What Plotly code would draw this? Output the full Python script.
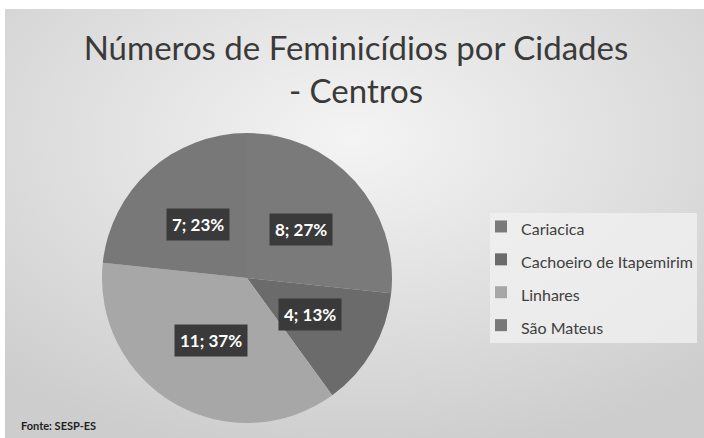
import math, base64
import plotly.graph_objects as go

# ---- data ----
cities = ["Cariacica", "Cachoeiro de Itapemirim", "Linhares", "São Mateus"]
counts = [8, 4, 11, 7]
slice_colors = ["#7a7a7a", "#6b6b6b", "#a7a7a7", "#787878"]
title_text = "Números de Feminicídios por Cidades<br>- Centros"
source_text = "Fonte: SESP-ES"

W, H = 704, 438
FONT = "Lato, 'Open Sans', sans-serif"

# pie geometry (pixels)
cx, cy, r = 247, 278, 145
dom_x = [(cx - r) / W, (cx + r) / W]
dom_y = [1 - (cy + r) / H, 1 - (cy - r) / H]

legend_labels = [f"<span style='font-size:16px'>{c}</span>" for c in cities]

fig = go.Figure()
fig.add_trace(go.Pie(
    labels=legend_labels, values=counts, sort=False, direction="clockwise", rotation=0,
    marker=dict(colors=slice_colors, line=dict(color="rgba(0,0,0,0)", width=0)),
    textinfo="none", domain=dict(x=dom_x, y=dom_y), hoverinfo="label+value+percent",
))

# data labels in dark boxes, placed at half radius along each slice's mid-angle
total = sum(counts)
cum = 0
for v in counts:
    mid = 2 * math.pi * (cum + v / 2) / total
    cum += v
    px = cx + 0.5 * r * math.sin(mid)
    py = cy - 0.5 * r * math.cos(mid)
    fig.add_annotation(
        x=px / W, y=1 - py / H, xref="paper", yref="paper",
        xanchor="center", yanchor="middle",
        text=f"<b>{v}; {round(100 * v / total)}%</b>", showarrow=False,
        font=dict(family=FONT, size=17, color="white"),
        bgcolor="#3a3a3a", borderpad=5,
    )

fig.add_annotation(
    x=19 / W, y=1 - 425 / H, xref="paper", yref="paper", xanchor="left", yanchor="middle",
    text=f"<b>{source_text}</b>", showarrow=False,
    font=dict(family=FONT, size=11, color="#222222"),
)

# radial gradient background as svg image
svg = ('<svg xmlns="http://www.w3.org/2000/svg" width="699" height="429" preserveAspectRatio="none">'
       '<defs><radialGradient id="g" cx="50%" cy="30%" r="75%">'
       '<stop offset="0%" stop-color="#f4f4f4"/><stop offset="100%" stop-color="#cdcdcd"/>'
       '</radialGradient></defs><rect width="699" height="429" fill="url(#g)"/></svg>')
src = "data:image/svg+xml;base64," + base64.b64encode(svg.encode()).decode()
fig.add_layout_image(dict(source=src, xref="paper", yref="paper", x=5 / W, y=1 - 9 / H,
                          sizex=(W - 5) / W, sizey=(H - 9) / H, xanchor="left", yanchor="top",
                          sizing="stretch", layer="below"))
# legend box background
fig.add_shape(type="rect", xref="paper", yref="paper", x0=490 / W, x1=697 / W,
              y0=1 - 343 / H, y1=1 - 213 / H, fillcolor="rgba(240,240,240,0.8)",
              line=dict(width=0), layer="below")

fig.update_layout(
    width=W, height=H, margin=dict(l=0, r=0, t=0, b=0),
    paper_bgcolor="white", plot_bgcolor="rgba(0,0,0,0)",
    title=dict(text=title_text, x=356 / W, xanchor="center", y=1 - 60 / H, yanchor="top",
               font=dict(family=FONT, size=33, color="#3a3a3a")),
    legend=dict(x=481 / W, y=1 - 205 / H, xanchor="left", yanchor="top",
                bgcolor="rgba(0,0,0,0)", font=dict(family=FONT, size=23, color="#404040"),
                itemwidth=30),
    showlegend=True,
)
fig.write_html("out.html", config={"displayModeBar": False},
               post_script="document.body.style.margin='0';document.body.style.overflow='hidden';")
